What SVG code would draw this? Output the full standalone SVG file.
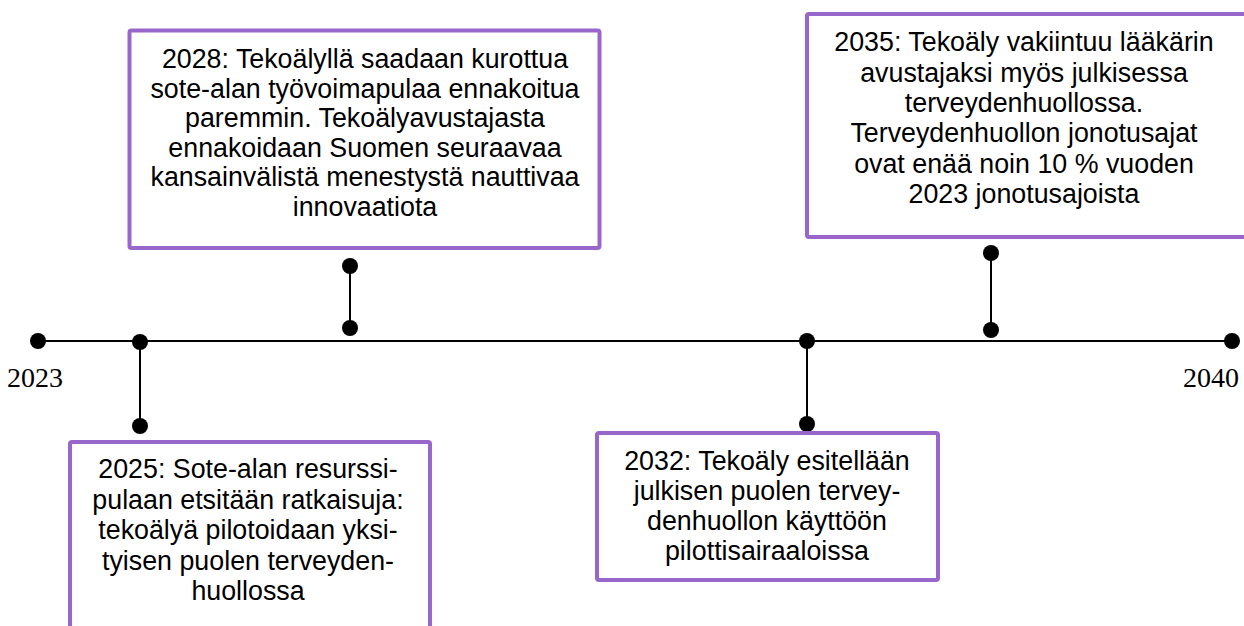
<svg xmlns="http://www.w3.org/2000/svg" width="1244" height="626" viewBox="0 0 1244 626">
  <style>
    .axis { stroke: #000; stroke-width: 2; fill: none; }
    .dot { fill: #000; }
    .box { fill: #fff; stroke: #9966CC; stroke-width: 4; }
    .txt { font-family: "Liberation Sans", Arial, sans-serif; font-size: 26.8px; fill: #000; text-anchor: middle; }
    .year { font-family: "Liberation Serif", "Times New Roman", serif; font-size: 28px; fill: #000; }
  </style>
  <rect width="1244" height="626" fill="#fff"/>

  <!-- timeline axis and stems -->
  <g id="connectors">
    <line class="axis" x1="38" y1="341" x2="1232" y2="341"/>
    <line class="axis" x1="140" y1="341" x2="140" y2="426"/>
    <line class="axis" x1="350" y1="266" x2="350" y2="328"/>
    <line class="axis" x1="807" y1="341" x2="807" y2="424"/>
    <line class="axis" x1="991" y1="253" x2="991" y2="330"/>
    <circle class="dot" cx="38" cy="341" r="8"/>
    <circle class="dot" cx="1232" cy="341" r="8"/>
    <circle class="dot" cx="140" cy="342" r="8"/>
    <circle class="dot" cx="140" cy="426" r="8"/>
    <circle class="dot" cx="350" cy="266" r="8"/>
    <circle class="dot" cx="350" cy="328" r="8"/>
    <circle class="dot" cx="807" cy="341" r="8"/>
    <circle class="dot" cx="807" cy="424" r="8"/>
    <circle class="dot" cx="991" cy="253" r="8"/>
    <circle class="dot" cx="991" cy="330" r="8"/>
  </g>

  <g id="start-year">
    <text class="year" x="7" y="387">2023</text>
  </g>
  <g id="end-year">
    <text class="year" x="1183" y="387">2040</text>
  </g>

  <g id="event-2025">
    <rect class="box" x="70" y="442" width="360" height="200" rx="2"/>
    <text class="txt" x="248" y="478">2025: Sote-alan resurssi-</text>
    <text class="txt" x="248" y="508.5">pulaan etsitään ratkaisuja:</text>
    <text class="txt" x="248" y="539">tekoälyä pilotoidaan yksi-</text>
    <text class="txt" x="248" y="569.5">tyisen puolen terveyden-</text>
    <text class="txt" x="248" y="600">huollossa</text>
  </g>

  <g id="event-2028">
    <rect class="box" x="129.5" y="30.5" width="470" height="217.5" rx="2"/>
    <text class="txt" x="365" y="68">2028: Tekoälyllä saadaan kurottua</text>
    <text class="txt" x="365" y="97.5">sote-alan työvoimapulaa ennakoitua</text>
    <text class="txt" x="365" y="127">paremmin. Tekoälyavustajasta</text>
    <text class="txt" x="365" y="156.5">ennakoidaan Suomen seuraavaa</text>
    <text class="txt" x="365" y="186">kansainvälistä menestystä nauttivaa</text>
    <text class="txt" x="365" y="215.5">innovaatiota</text>
  </g>

  <g id="event-2032">
    <rect class="box" x="597" y="433" width="341" height="147" rx="2"/>
    <text class="txt" x="767" y="470">2032: Tekoäly esitellään</text>
    <text class="txt" x="767" y="500">julkisen puolen tervey-</text>
    <text class="txt" x="767" y="530">denhuollon käyttöön</text>
    <text class="txt" x="767" y="560">pilottisairaaloissa</text>
  </g>

  <g id="event-2035">
    <rect class="box" x="807" y="14" width="440" height="223" rx="2"/>
    <text class="txt" x="1024" y="51">2035: Tekoäly vakiintuu lääkärin</text>
    <text class="txt" x="1024" y="81.5">avustajaksi myös julkisessa</text>
    <text class="txt" x="1024" y="112">terveydenhuollossa.</text>
    <text class="txt" x="1024" y="142">Terveydenhuollon jonotusajat</text>
    <text class="txt" x="1024" y="172.5">ovat enää noin 10 % vuoden</text>
    <text class="txt" x="1024" y="203">2023 jonotusajoista</text>
  </g>
</svg>
